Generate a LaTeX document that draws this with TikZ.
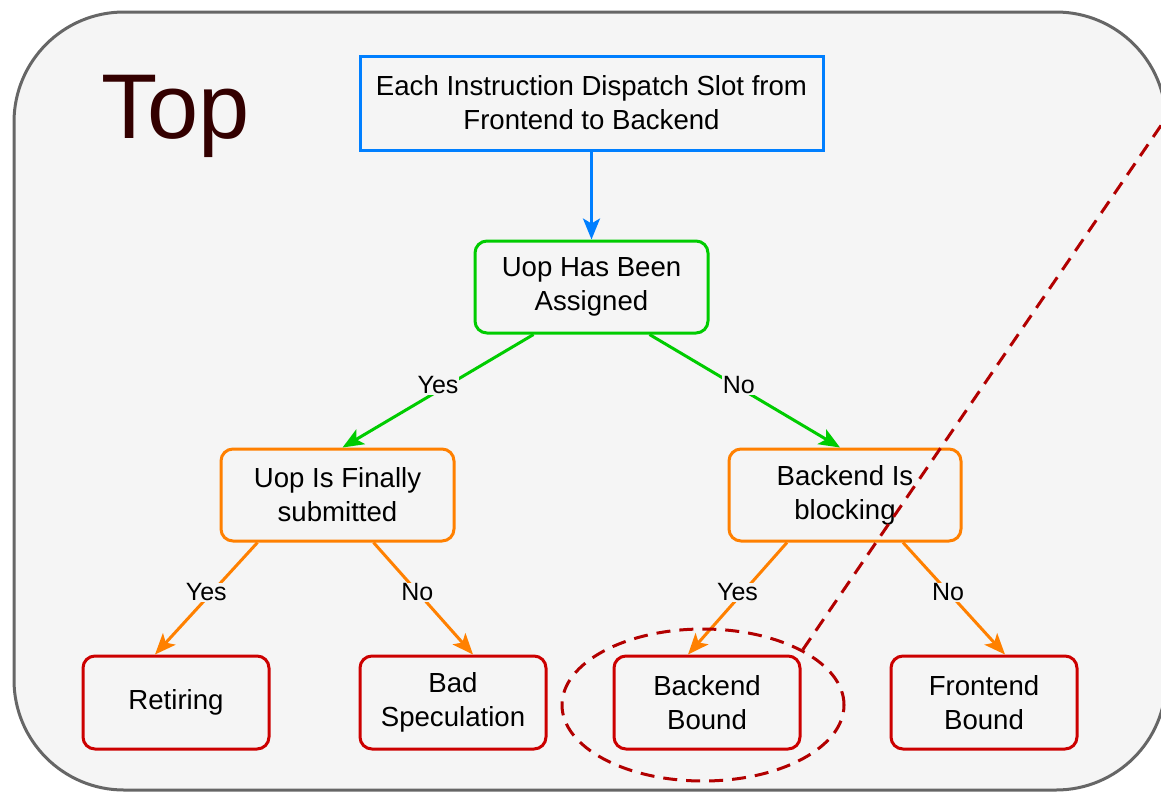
\documentclass[tikz,border=0pt]{standalone}
\usepackage{fontspec}
\setmainfont{Liberation Sans}
\usetikzlibrary{arrows.meta,calc,shapes.geometric}
\definecolor{bgc}{HTML}{F5F5F5}
\definecolor{framec}{HTML}{666666}
\definecolor{bluec}{HTML}{007FFF}
\definecolor{greenc}{HTML}{00CC00}
\definecolor{orangec}{HTML}{FF8000}
\definecolor{redc}{HTML}{CC0000}
\definecolor{darkredc}{HTML}{B20000}
\definecolor{topc}{HTML}{330000}
\tikzset{
  box/.style={draw, line width=3pt, fill=bgc, align=center, inner sep=0pt,
    font=\fontsize{27.6}{34}\selectfont, text=black},
  rbox/.style={box, rounded corners=12pt},
  conn/.style={line width=3pt, -{Stealth[length=21pt,width=17pt,inset=5pt]}},
  lbl/.style={fill=bgc, inner sep=1pt, font=\fontsize{25}{28}\selectfont, text=black, pos=0.5, yshift=6pt},
  nolbl/.style={lbl, xshift=-6pt},
}
\begin{document}
\begin{tikzpicture}[x=1pt,y=-1pt]
\useasboundingbox (0,0) rectangle (1161,793);
\begin{scope}
\clip (0,0) rectangle (1161,793);
\draw[framec, line width=3pt, fill=bgc, rounded corners=110pt] (14,12) rectangle (1166,790);
\node[text=topc, font=\fontsize{92}{100}\selectfont, anchor=base west, inner sep=0pt] (toplbl) at (101,138) {Top};

\node[box, draw=bluec, minimum width=463pt, minimum height=94pt] (disp) at (591.5,103) {Each Instruction Dispatch Slot from\\Frontend to Backend};
\node[rbox, draw=greenc, minimum width=233pt, minimum height=92pt] (uop) at (591.5,287) {Uop Has Been\\Assigned};
\node[rbox, draw=orangec, minimum width=233pt, minimum height=92pt] (fin) at (337.5,495) {Uop Is Finally\\submitted};
\node[rbox, draw=orangec, minimum width=232pt, minimum height=92pt] (blk) at (845,495) {Backend Is\\blocking};
\node[rbox, draw=redc, minimum width=186pt, minimum height=93pt] (ret) at (176,702.5) {Retiring};
\node[rbox, draw=redc, minimum width=186pt, minimum height=93pt] (bad) at (453,702.5) {Bad\\Speculation};
\node[rbox, draw=redc, minimum width=186pt, minimum height=93pt] (bb) at (707,702.5) {Backend\\Bound};
\node[rbox, draw=redc, minimum width=186pt, minimum height=93pt] (fb) at (984,702.5) {Frontend\\Bound};

\draw[conn, bluec] (disp.south) -- (uop.north);
\draw[conn, greenc] ([xshift=-58pt]uop.south) -- node[lbl]{Yes} ([xshift=5pt]fin.north);
\draw[conn, greenc] ([xshift=58pt]uop.south) -- node[nolbl]{No} ([xshift=-5pt]blk.north);
\draw[conn, orangec] ([xshift=-80pt]fin.south) -- node[lbl]{Yes} ([xshift=-21pt]ret.north);
\draw[conn, orangec] ([xshift=36pt]fin.south) -- node[nolbl]{No} ([xshift=20pt]bad.north);
\draw[conn, orangec] ([xshift=-58pt]blk.south) -- node[lbl]{Yes} ([xshift=-19pt]bb.north);
\draw[conn, orangec] ([xshift=58pt]blk.south) -- node[nolbl]{No} ([xshift=21pt]fb.north);

\node[ellipse, draw=darkredc, line width=3pt, dash pattern=on 14pt off 9pt, minimum width=282pt, minimum height=152pt, inner sep=0pt] (hl) at (703,705) {};
\coordinate (far) at (1175,105);
\draw[darkredc, line width=3pt, dash pattern=on 14pt off 9pt] (hl.29) -- (far);
\end{scope}
\end{tikzpicture}
\end{document}
